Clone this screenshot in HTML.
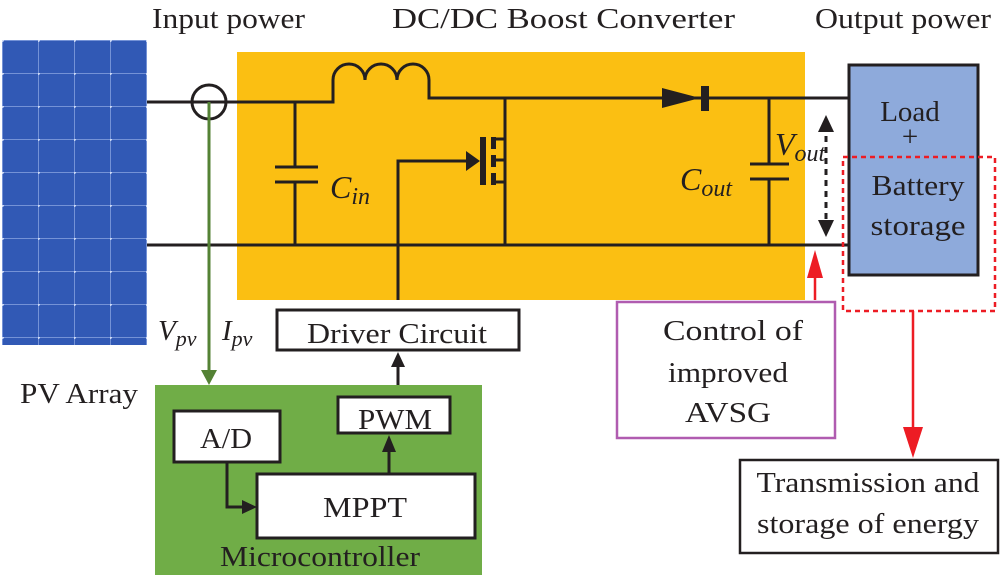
<!DOCTYPE html>
<html><head><meta charset="utf-8"><style>
html,body{margin:0;padding:0;background:#fff;}
svg{display:block;}
text{font-family:"Liberation Serif",serif;fill:#231f20;}
</style></head><body>
<svg width="1002" height="578" viewBox="0 0 1002 578" xmlns="http://www.w3.org/2000/svg">
<defs>
<pattern id="cells" x="2" y="40" width="36" height="33" patternUnits="userSpaceOnUse">
<rect width="36" height="33" fill="#3159b5"/>
<line x1="0" y1="0" x2="36" y2="0" stroke="#8aa4e2" stroke-width="1.5"/>
<line x1="0" y1="0" x2="0" y2="33" stroke="#8aa4e2" stroke-width="1.5"/>
<circle cx="0" cy="0" r="2" fill="#d0dcf7"/>
</pattern>
</defs>
<!-- titles -->
<text x="152" y="28" font-size="29" textLength="153" lengthAdjust="spacingAndGlyphs">Input power</text>
<text x="392" y="28" font-size="29" textLength="343" lengthAdjust="spacingAndGlyphs">DC/DC Boost Converter</text>
<text x="815" y="28" font-size="29" textLength="176" lengthAdjust="spacingAndGlyphs">Output power</text>
<!-- PV panel -->
<rect x="2" y="40" width="145" height="305" fill="url(#cells)"/>
<text x="20" y="403" font-size="29" textLength="118" lengthAdjust="spacingAndGlyphs">PV Array</text>
<!-- converter box -->
<rect x="237" y="52" width="568" height="248" fill="#fbbf12"/>
<g stroke="#231f20" stroke-width="3" fill="none">
<path d="M147 102 H333 V80 a16 16 0 0 1 32 0 a16 16 0 0 1 32 0 a16 16 0 0 1 32 0 V98 H849"/>
<path d="M147 245 H860"/>
<circle cx="209" cy="102" r="17"/>
<path d="M295 102 V167 M275 167 H318 M275 182 H318 M295 182 V245"/>
<path d="M769 98 V164 M750 164 H789 M750 179 H789 M769 179 V245"/>
<path d="M505 98 V139 H496 M505 139 V245 M505 182 H496"/>
<path d="M398 300 V161 H470"/>
</g>
<!-- mosfet -->
<rect x="480" y="137" width="6" height="48" fill="#231f20"/>
<rect x="491" y="137" width="5" height="12" fill="#231f20"/>
<rect x="491" y="155" width="5" height="12" fill="#231f20"/>
<rect x="491" y="173" width="5" height="12" fill="#231f20"/>
<path d="M491 160 H505" stroke="#231f20" stroke-width="3"/>
<polygon points="466,151 480,161 466,171" fill="#231f20"/>
<!-- diode -->
<polygon points="662,88 700,98 662,108" fill="#231f20"/>
<rect x="701" y="86" width="8" height="25" fill="#231f20"/>
<text x="330" y="198" font-size="32" font-style="italic">C<tspan font-size="24" dy="6">in</tspan></text>
<text x="680" y="190" font-size="32" font-style="italic">C<tspan font-size="24" dy="6">out</tspan></text>
<text x="775" y="155" font-size="32" font-style="italic">V<tspan font-size="24" dy="6">out</tspan></text>
<!-- dashed arrow -->
<path d="M826 125 V225" stroke="#231f20" stroke-width="3" stroke-dasharray="6,5"/>
<polygon points="818,132 826,115 834,132" fill="#231f20"/>
<polygon points="818,220 826,237 834,220" fill="#231f20"/>
<!-- load -->
<rect x="849" y="65" width="129" height="210" fill="#8eaadb" stroke="#231f20" stroke-width="3"/>
<text x="910" y="121" font-size="29" text-anchor="middle">Load</text>
<text x="910" y="146" font-size="29" text-anchor="middle">+</text>
<text x="918" y="195" font-size="29" text-anchor="middle" textLength="93" lengthAdjust="spacingAndGlyphs">Battery</text>
<text x="918" y="235" font-size="29" text-anchor="middle" textLength="95" lengthAdjust="spacingAndGlyphs">storage</text>
<rect x="843" y="157" width="152" height="154" fill="none" stroke="#ed1c24" stroke-width="2.5" stroke-dasharray="5,4"/>
<path d="M913 311 V430" stroke="#ed1c24" stroke-width="2.5"/>
<polygon points="903,427 913,458 923,427" fill="#ed1c24"/>
<rect x="740" y="460" width="258" height="93" fill="#fff" stroke="#231f20" stroke-width="2.5"/>
<text x="868" y="492" font-size="29" text-anchor="middle" textLength="223" lengthAdjust="spacingAndGlyphs">Transmission and</text>
<text x="868" y="533" font-size="29" text-anchor="middle" textLength="222" lengthAdjust="spacingAndGlyphs">storage of energy</text>
<!-- control -->
<path d="M815 300 V275" stroke="#ed1c24" stroke-width="2.5"/>
<polygon points="807,278 815,250 823,278" fill="#ed1c24"/>
<rect x="617" y="302" width="218" height="136" fill="#fff" stroke="#b05cb0" stroke-width="2.5"/>
<text x="733" y="340" font-size="29" text-anchor="middle" textLength="140" lengthAdjust="spacingAndGlyphs">Control of</text>
<text x="728" y="382" font-size="29" text-anchor="middle" textLength="120" lengthAdjust="spacingAndGlyphs">improved</text>
<text x="728" y="422" font-size="29" text-anchor="middle" textLength="86" lengthAdjust="spacingAndGlyphs">AVSG</text>
<!-- green sense line -->
<path d="M209 102 V372" stroke="#548235" stroke-width="3"/>
<polygon points="201,370 209,385 217,370" fill="#548235"/>
<text x="158" y="340" font-size="29" font-style="italic">V<tspan font-size="22" dy="6">pv</tspan></text>
<text x="222" y="340" font-size="29" font-style="italic">I<tspan font-size="22" dy="6">pv</tspan></text>
<!-- driver -->
<rect x="277" y="310" width="242" height="40" fill="#fff" stroke="#231f20" stroke-width="3"/>
<text x="397" y="343" font-size="29" text-anchor="middle" textLength="180" lengthAdjust="spacingAndGlyphs">Driver Circuit</text>
<!-- micro -->
<rect x="155" y="385" width="327" height="190" fill="#70ad47"/>
<path d="M398 385 V365" stroke="#231f20" stroke-width="3"/>
<polygon points="391,367 398,352 405,367" fill="#231f20"/>
<rect x="338" y="397" width="112" height="36" fill="#fff" stroke="#231f20" stroke-width="3"/>
<text x="395" y="429" font-size="29" text-anchor="middle" textLength="74" lengthAdjust="spacingAndGlyphs">PWM</text>
<rect x="174" y="411" width="106" height="51" fill="#fff" stroke="#231f20" stroke-width="3"/>
<text x="226" y="448" font-size="29" text-anchor="middle" textLength="52" lengthAdjust="spacingAndGlyphs">A/D</text>
<rect x="257" y="474" width="218" height="64" fill="#fff" stroke="#231f20" stroke-width="3"/>
<text x="365" y="517" font-size="29" text-anchor="middle" textLength="84" lengthAdjust="spacingAndGlyphs">MPPT</text>
<path d="M227 462 V507 H244" stroke="#231f20" stroke-width="3" fill="none"/>
<polygon points="242,500 257,507 242,514" fill="#231f20"/>
<path d="M389 474 V450" stroke="#231f20" stroke-width="3"/>
<polygon points="382,452 389,435 396,452" fill="#231f20"/>
<text x="320" y="566" font-size="29" text-anchor="middle" textLength="200" lengthAdjust="spacingAndGlyphs">Microcontroller</text>
</svg>
</body></html>
